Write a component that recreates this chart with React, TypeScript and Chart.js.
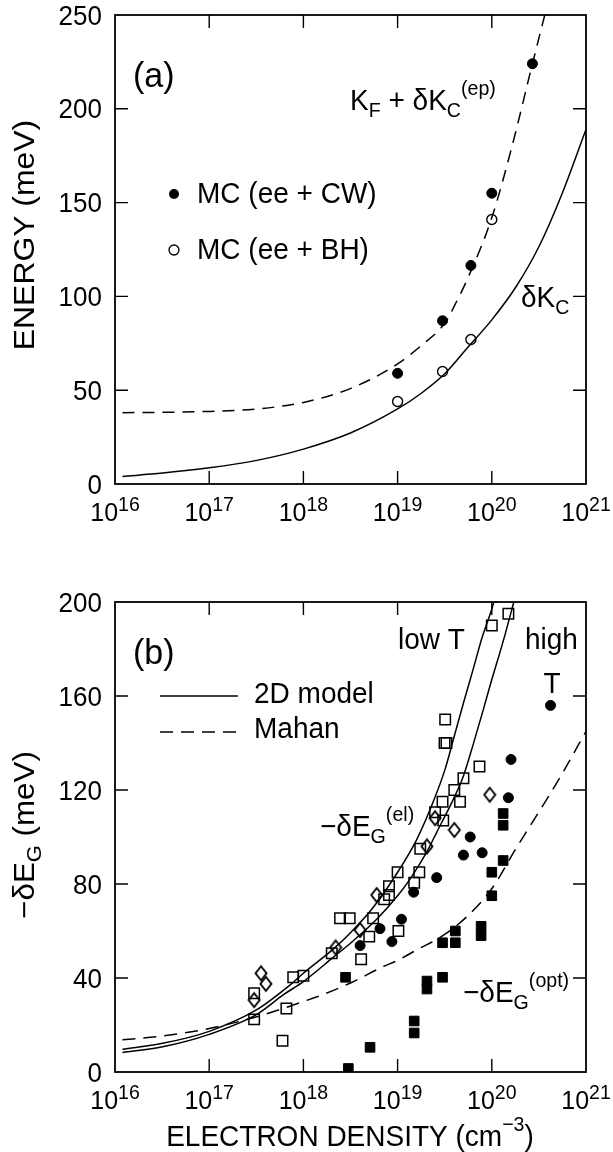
import React, { useEffect, useRef } from 'react';
import { Chart, registerables } from 'chart.js';

Chart.register(...registerables);

const FONT = '"Liberation Sans", Arial, Helvetica, sans-serif';
const INK = '#000000';
const TICK = 13;

// ---------------- Panel (a) ----------------
const A_X_TICKS = [1e16, 1e17, 1e18, 1e19, 1e20, 1e21];
const A_X_EXPONENTS = ['16', '17', '18', '19', '20', '21'];
const A_Y_TICKS = [0, 50, 100, 150, 200, 250];

// MC (ee + CW) filled circles
const A_CW_N = [1e19, 3e19, 6e19, 1e20, 2.7e20];
const A_CW_E = [59, 87, 116.5, 155, 224];
// MC (ee + BH) open circles
const A_BH_N = [1e19, 3e19, 6e19, 1e20];
const A_BH_E = [44, 60, 77, 141];
// delta K_C (solid)
const A_KC_N = [1.2e16, 3.2e16, 1e17, 3.2e17, 1e18, 3.2e18, 1e19, 1.8e19, 3.2e19, 5.6e19, 1e20, 1.8e20, 3.2e20, 5.6e20, 1e21];
const A_KC_E = [4, 5.8, 8.6, 12.6, 18.6, 27.3, 40, 48.5, 59, 73, 87.5, 105, 127, 155, 189];
// K_F + delta K_C(ep) (dashed)
const A_EP_N = [1.2e16, 3.2e16, 1e17, 3.2e17, 1e18, 3.2e18, 1e19, 1.8e19, 3.2e19, 4.2e19, 5.6e19, 1e20, 1.6e20, 2.7e20, 4.2e20];
const A_EP_E = [38, 38.2, 38.7, 40, 43.5, 51, 64, 74, 86, 97, 110, 142, 178, 224, 262];

// ---------------- Panel (b) ----------------
const B_X_TICKS = [1e16, 1e17, 1e18, 1e19, 1e20, 1e21];
const B_X_EXPONENTS = ['16', '17', '18', '19', '20', '21'];
const B_Y_TICKS = [0, 40, 80, 120, 160, 200];

// 2D model, low T (solid)
const B_LOW_N = [1.2e16, 3.2e16, 1e17, 3.2e17, 7.2e17, 1e18, 2.1e18, 3.2e18, 5.5e18, 1e19, 1.6e19, 2.5e19, 3.2e19, 4e19, 5e19, 6.3e19, 7.9e19, 1e20, 1.15e20];
const B_LOW_E = [9.7, 12.2, 17.3, 26.5, 37, 42, 52.5, 59.5, 70, 85, 99, 117, 129, 143, 157, 171, 185, 197, 206];
// 2D model, high T (solid)
const B_HIGH_N = [1.2e16, 3.2e16, 1e17, 3.2e17, 6.2e17, 1e18, 2.1e18, 3.2e18, 6e18, 1e19, 1.35e19, 2e19, 2.6e19, 3.9e19, 5e19, 6.3e19, 8.1e19, 1e20, 1.23e20, 1.38e20, 1.74e20, 1.9e20];
const B_HIGH_E = [8.3, 10.7, 16, 24.5, 33, 38.5, 49, 55, 65, 75, 82, 93, 102, 116, 126, 139, 154, 167, 179, 186, 201, 207];
// Mahan (dashed)
const B_MAHAN_N = [1.2e16, 3.2e16, 1e17, 3.2e17, 6.6e17, 1e18, 1.4e18, 3.2e18, 7e18, 1e19, 1.6e19, 3.1e19, 5.4e19, 1e20, 1.8e20, 3.2e20, 5.6e20, 1e21];
const B_MAHAN_E = [13.7, 15.3, 18.5, 23.5, 27.5, 30, 32, 38, 44.8, 47.5, 52, 58.3, 66, 78, 95, 111, 127, 145];

// open squares
const B_OSQ_N = [1.5e20, 1e20, 3.2e19, 3.15e19, 3.3e19, 7.4e19, 5e19, 4e19, 3e19, 4.6e19, 2.5e19, 3.05e19, 1.74e19, 1e19, 1.7e19, 1.5e19, 8.1e18, 8.1e18, 7.2e18, 2.45e18, 3.1e18, 5.5e18, 5e18, 1.02e19, 4.1e18, 2e18, 7.8e17, 1e18, 3e17, 3e17, 6.6e17, 6e17];
const B_OSQ_E = [195, 190, 150, 140, 140, 130, 125, 120, 115, 115, 110.5, 107, 95, 85, 85, 80.5, 79, 75.3, 73.5, 65.4, 65.4, 65.4, 57.6, 60, 48, 50.5, 40.3, 41, 33.5, 22.4, 27, 13.3];
// open diamonds
const B_DIA_N = [9.5e19, 4e19, 2.5e19, 2.05e19, 6e18, 4e18, 2.2e18, 3.55e17, 4e17, 3e17];
const B_DIA_E = [118, 103, 108, 96, 75.3, 60.4, 53, 42, 37.5, 30.6];
// filled circles
const B_FCI_N = [4.2e20, 1.6e20, 1.5e20, 5.9e19, 7.9e19, 5e19, 2.6e19, 1.48e19, 1.1e19, 6.5e18, 8.7e18, 4e18];
const B_FCI_E = [156, 133, 116.7, 100, 93.3, 92.3, 82.7, 76.5, 65, 61, 55.5, 53.8];
// filled squares
const B_FSQ_N = [1.32e20, 1.32e20, 1.32e20, 1e20, 1e20, 7.7e19, 7.7e19, 4.1e19, 3e19, 4.1e19, 2.05e19, 2.05e19, 3e19, 1.5e19, 1.5e19, 2.8e18, 5.1e18, 3e18];
const B_FSQ_E = [110, 105, 90, 85, 75, 62, 58, 60, 55, 55, 38.7, 35.3, 40.3, 21.7, 16.6, 40.3, 10.5, 1.5];

// ---------------- helpers ----------------
const pts = (xs: number[], ys: number[]) => xs.map((x, i) => ({ x, y: ys[i] }));

type Seg = { t: string; s?: 'sub' | 'sup' };
interface RichOpts {
  size: number;
  ratio?: number;
  align?: 'left' | 'center' | 'right';
  rot?: number;
  sx?: number;
  sy?: number;
  supDy?: number;
  subDy?: number;
}

function drawRich(ctx: CanvasRenderingContext2D, segs: Seg[], x: number, y: number, o: RichOpts) {
  const ratio = o.ratio ?? 0.7;
  const small = o.size * ratio;
  const supDy = o.supDy ?? -0.5 * o.size;
  const subDy = o.subDy ?? 0.25 * o.size;
  ctx.save();
  ctx.translate(x, y);
  if (o.rot) ctx.rotate(o.rot);
  ctx.scale(o.sx ?? 1, o.sy ?? 1.05);
  ctx.fillStyle = INK;
  ctx.textBaseline = 'alphabetic';
  ctx.textAlign = 'left';
  const widths = segs.map((sg) => {
    ctx.font = `${sg.s ? small : o.size}px ${FONT}`;
    return ctx.measureText(sg.t).width;
  });
  const total = widths.reduce((a, b) => a + b, 0);
  let cx = o.align === 'center' ? -total / 2 : o.align === 'right' ? -total : 0;
  segs.forEach((sg, i) => {
    ctx.font = `${sg.s ? small : o.size}px ${FONT}`;
    const dy = sg.s === 'sub' ? subDy : sg.s === 'sup' ? supDy : 0;
    ctx.fillText(sg.t, cx, dy);
    cx += widths[i];
  });
  ctx.restore();
}

function diamondImage() {
  const c = document.createElement('canvas');
  c.width = 14;
  c.height = 18;
  const g = c.getContext('2d')!;
  g.strokeStyle = INK;
  g.lineWidth = 1.9;
  g.lineJoin = 'miter';
  g.beginPath();
  g.moveTo(7, 2);
  g.lineTo(12.5, 9);
  g.lineTo(7, 16);
  g.lineTo(1.5, 9);
  g.closePath();
  g.stroke();
  return c;
}

function framePlugin(
  id: string,
  xTicks: number[],
  xExps: string[],
  yTicks: number[],
  extra: (ctx: CanvasRenderingContext2D, chart: any) => void
) {
  return {
    id,
    afterDraw(chart: any) {
      const { ctx } = chart;
      const { left, right, top, bottom } = chart.chartArea;
      const xs = chart.scales.x;
      const ys = chart.scales.y;
      ctx.save();
      ctx.strokeStyle = INK;
      ctx.lineWidth = 1.8;
      ctx.strokeRect(left, top, right - left, bottom - top);
      ctx.lineWidth = 1.4;
      ctx.beginPath();
      xTicks.forEach((v, i) => {
        if (i === 0 || i === xTicks.length - 1) return;
        const px = xs.getPixelForValue(v);
        ctx.moveTo(px, bottom);
        ctx.lineTo(px, bottom - TICK);
        ctx.moveTo(px, top);
        ctx.lineTo(px, top + TICK);
      });
      yTicks.forEach((v, i) => {
        if (i === 0 || i === yTicks.length - 1) return;
        const py = ys.getPixelForValue(v);
        ctx.moveTo(left, py);
        ctx.lineTo(left + TICK, py);
        ctx.moveTo(right, py);
        ctx.lineTo(right - TICK, py);
      });
      ctx.stroke();
      xTicks.forEach((v, i) => {
        drawRich(ctx, [{ t: '10' }, { t: xExps[i], s: 'sup' }], xs.getPixelForValue(v), bottom + 37, {
          size: 25,
          ratio: 0.78,
          align: 'center',
          supDy: -10,
        });
      });
      yTicks.forEach((v) => {
        drawRich(ctx, [{ t: String(v) }], left - 13, ys.getPixelForValue(v) + 9.5, { size: 26, align: 'right' });
      });
      extra(ctx, chart);
      ctx.restore();
    },
  };
}

const lineDs = (data: any[], dash: number[] = []) => ({
  data,
  showLine: true,
  borderColor: INK,
  borderWidth: 1.5,
  borderDash: dash,
  pointRadius: 0,
  fill: false,
  cubicInterpolationMode: 'monotone' as const,
});

const baseOptions = (padding: any, ymax: number) => ({
  responsive: false,
  animation: false as const,
  events: [] as any[],
  layout: { padding },
  plugins: { legend: { display: false }, tooltip: { enabled: false }, title: { display: false } },
  scales: {
    x: { type: 'logarithmic' as const, min: 1e16, max: 1e21, display: false },
    y: { type: 'linear' as const, min: 0, max: ymax, display: false },
  },
});

function configA(): any {
  const extra = (ctx: CanvasRenderingContext2D) => {
    drawRich(ctx, [{ t: '(a)' }], 133, 87, { size: 34 });
    drawRich(
      ctx,
      [{ t: 'K' }, { t: 'F', s: 'sub' }, { t: ' + δK' }, { t: 'C', s: 'sub' }, { t: '(ep)', s: 'sup' }],
      350,
      110,
      { size: 28 }
    );
    drawRich(ctx, [{ t: 'δK' }, { t: 'C', s: 'sub' }], 521, 307, { size: 28 });
    // legend
    ctx.fillStyle = INK;
    ctx.strokeStyle = INK;
    ctx.lineWidth = 1.3;
    ctx.beginPath();
    ctx.arc(174, 194, 5, 0, Math.PI * 2);
    ctx.fill();
    ctx.beginPath();
    ctx.arc(174, 250, 5, 0, Math.PI * 2);
    ctx.stroke();
    drawRich(ctx, [{ t: 'MC (ee + CW)' }], 197, 203, { size: 28 });
    drawRich(ctx, [{ t: 'MC (ee + BH)' }], 197, 259, { size: 28 });
    // y title
    drawRich(ctx, [{ t: 'ENERGY (meV)' }], 34, 235, { size: 29, align: 'center', rot: -Math.PI / 2, sx: 1.1, sy: 1 });
  };
  return {
    type: 'scatter',
    data: {
      datasets: [
        {
          data: pts(A_CW_N, A_CW_E),
          pointStyle: 'circle',
          pointRadius: 5,
          backgroundColor: INK,
          borderColor: INK,
          borderWidth: 1,
        },
        {
          data: pts(A_BH_N, A_BH_E),
          pointStyle: 'circle',
          pointRadius: 5,
          backgroundColor: 'rgba(0,0,0,0)',
          borderColor: INK,
          borderWidth: 1.4,
        },
        lineDs(pts(A_KC_N, A_KC_E)),
        lineDs(pts(A_EP_N, A_EP_E), [12, 8]),
      ],
    },
    options: baseOptions({ left: 115, right: 27, top: 15, bottom: 56 }, 250),
    plugins: [framePlugin('frameA', A_X_TICKS, A_X_EXPONENTS, A_Y_TICKS, extra)],
  };
}

function configB(): any {
  const extra = (ctx: CanvasRenderingContext2D) => {
    drawRich(ctx, [{ t: '(b)' }], 133, 124, { size: 34 });
    drawRich(ctx, [{ t: 'low T' }], 398, 109, { size: 28 });
    drawRich(ctx, [{ t: 'high' }], 525, 109, { size: 28 });
    drawRich(ctx, [{ t: 'T' }], 552, 153, { size: 28, align: 'center' });
    // legend
    ctx.strokeStyle = INK;
    ctx.lineWidth = 1.5;
    ctx.setLineDash([]);
    ctx.beginPath();
    ctx.moveTo(160, 156);
    ctx.lineTo(238, 156);
    ctx.stroke();
    ctx.setLineDash([13, 8]);
    ctx.beginPath();
    ctx.moveTo(160, 192);
    ctx.lineTo(238, 192);
    ctx.stroke();
    ctx.setLineDash([]);
    drawRich(ctx, [{ t: '2D model' }], 254, 163, { size: 28 });
    drawRich(ctx, [{ t: 'Mahan' }], 254, 198, { size: 28 });
    drawRich(ctx, [{ t: '−δE' }, { t: 'G', s: 'sub' }, { t: '(el)', s: 'sup' }], 320, 296, { size: 28 });
    drawRich(ctx, [{ t: '−δE' }, { t: 'G', s: 'sub' }, { t: '(opt)', s: 'sup' }], 463, 462, { size: 28 });
    drawRich(ctx, [{ t: '−δE' }, { t: 'G', s: 'sub' }, { t: ' (meV)' }], 34, 295, {
      size: 29,
      align: 'center',
      rot: -Math.PI / 2,
      sx: 1.08,
      sy: 1,
    });
    drawRich(ctx, [{ t: 'ELECTRON DENSITY (cm' }, { t: '−3', s: 'sup' }, { t: ')' }], 350, 606, {
      size: 28,
      align: 'center',
    });
  };
  const diamond = diamondImage();
  return {
    type: 'scatter',
    data: {
      datasets: [
        {
          data: pts(B_OSQ_N, B_OSQ_E),
          pointStyle: 'rect',
          pointRadius: 7.4,
          backgroundColor: 'rgba(0,0,0,0)',
          borderColor: INK,
          borderWidth: 1.5,
        },
        {
          data: pts(B_DIA_N, B_DIA_E),
          pointStyle: diamond,
          pointRadius: 6,
          backgroundColor: 'rgba(0,0,0,0)',
          borderColor: INK,
        },
        {
          data: pts(B_FCI_N, B_FCI_E),
          pointStyle: 'circle',
          pointRadius: 5,
          backgroundColor: INK,
          borderColor: INK,
          borderWidth: 1,
        },
        {
          data: pts(B_FSQ_N, B_FSQ_E),
          pointStyle: 'rect',
          pointRadius: 6.8,
          backgroundColor: INK,
          borderColor: INK,
          borderWidth: 1,
        },
        lineDs(pts(B_LOW_N, B_LOW_E)),
        lineDs(pts(B_HIGH_N, B_HIGH_E)),
        lineDs(pts(B_MAHAN_N, B_MAHAN_E), [13, 8]),
      ],
    },
    options: baseOptions({ left: 115, right: 27, top: 62, bottom: 80 }, 200),
    plugins: [framePlugin('frameB', B_X_TICKS, B_X_EXPONENTS, B_Y_TICKS, extra)],
  };
}

export default function App() {
  const refA = useRef<HTMLCanvasElement>(null);
  const refB = useRef<HTMLCanvasElement>(null);
  useEffect(() => {
    const a = new Chart(refA.current as HTMLCanvasElement, configA());
    const b = new Chart(refB.current as HTMLCanvasElement, configB());
    return () => {
      a.destroy();
      b.destroy();
    };
  }, []);
  return (
    <div style={{ position: 'absolute', left: 0, top: 0, width: 613, height: 1152, background: '#ffffff' }}>
      <canvas
        ref={refA}
        width={613}
        height={540}
        style={{ position: 'absolute', left: 0, top: 0, width: 613, height: 540 }}
      />
      <canvas
        ref={refB}
        width={613}
        height={612}
        style={{ position: 'absolute', left: 0, top: 540, width: 613, height: 612 }}
      />
    </div>
  );
}
